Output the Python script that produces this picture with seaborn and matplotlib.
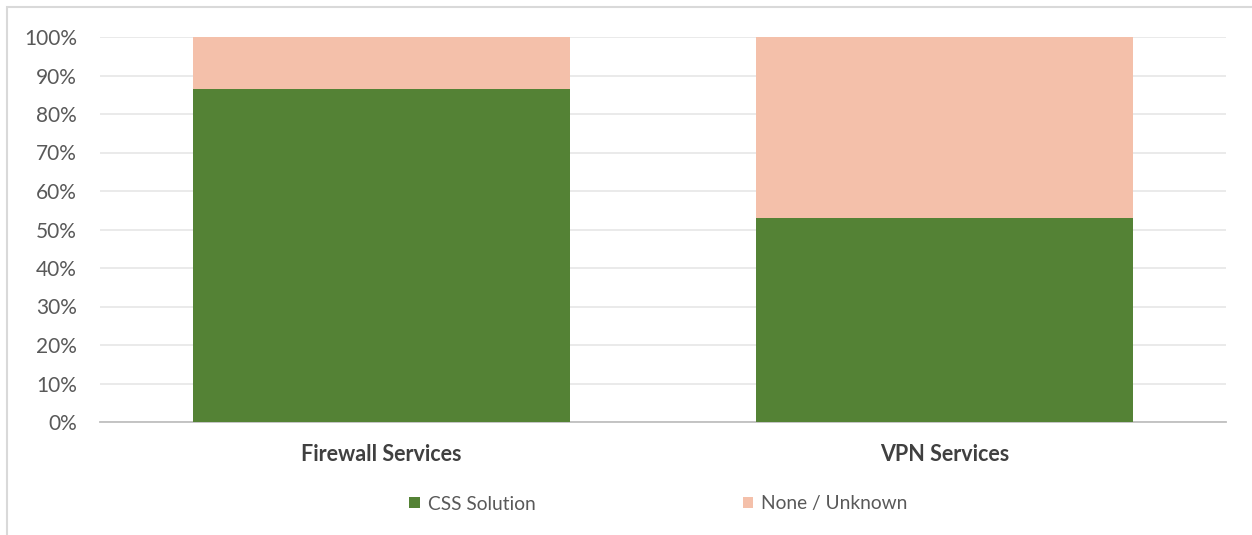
import matplotlib
matplotlib.use("Agg")
import matplotlib.pyplot as plt
from matplotlib.patches import Rectangle, Patch
from matplotlib.ticker import PercentFormatter, MultipleLocator
import seaborn as sns
import pandas as pd

categories = ["Firewall Services", "VPN Services"]
css_solution = [86.5, 53.0]
none_unknown = [13.5, 47.0]
series_names = ["CSS Solution", "None / Unknown"]

green = "#548235"
salmon = "#F4C0AA"
text_gray = "#595959"

sns.set_theme(style="white")
plt.rcParams["font.family"] = ["Lato", "DejaVu Sans"]

df = pd.DataFrame({
    "category": categories,
    "css": css_solution,
    "total": [c + n for c, n in zip(css_solution, none_unknown)],
})

fig = plt.figure(figsize=(12.52, 5.35), dpi=100)
ax = fig.add_axes([100 / 1252, 1 - 422 / 535, 1126 / 1252, 385 / 535])

# stacked bars: full stack first, then the lower segment on top
sns.barplot(data=df, x="category", y="total", color=salmon, width=0.67,
            saturation=1, linewidth=0, ax=ax, zorder=2)
sns.barplot(data=df, x="category", y="css", color=green, width=0.67,
            saturation=1, linewidth=0, ax=ax, zorder=3)

ax.set_ylim(0, 100)
ax.set_xlim(-0.5, 1.5)
ax.yaxis.set_major_locator(MultipleLocator(10))
ax.yaxis.set_major_formatter(PercentFormatter(decimals=0))
ax.grid(axis="y", color="#e6e6e6", linewidth=1.2, zorder=0)
ax.set_axisbelow(True)
for side in ["top", "right", "left"]:
    ax.spines[side].set_visible(False)
ax.spines["bottom"].set_color("#bfbfbf")
ax.spines["bottom"].set_linewidth(1.3)
ax.set_xlabel("")
ax.set_ylabel("")
ax.tick_params(axis="y", length=0, pad=16.5, labelsize=15, labelcolor=text_gray)
ax.tick_params(axis="x", length=0, pad=16, labelsize=15.5, labelcolor="#404040")
for lbl in ax.get_xticklabels():
    lbl.set_fontweight("bold")

handles = [Patch(facecolor=green, edgecolor="none"),
           Patch(facecolor=salmon, edgecolor="none")]
fig.legend(handles, series_names, loc="center", bbox_to_anchor=(0.526, 1 - 504 / 535),
           ncol=2, frameon=False, fontsize=13.8, labelcolor=text_gray,
           handlelength=0.55, handleheight=0.55, handletextpad=0.42,
           columnspacing=10.8)

# chart-area border
fig.add_artist(Rectangle((7 / 1252, -0.1), 1.2, 1 - 7 / 535 + 0.1,
                         transform=fig.transFigure, fill=False,
                         edgecolor="#d9d9d9", linewidth=1.5))

fig.savefig("out.png", dpi=100, facecolor="white")
